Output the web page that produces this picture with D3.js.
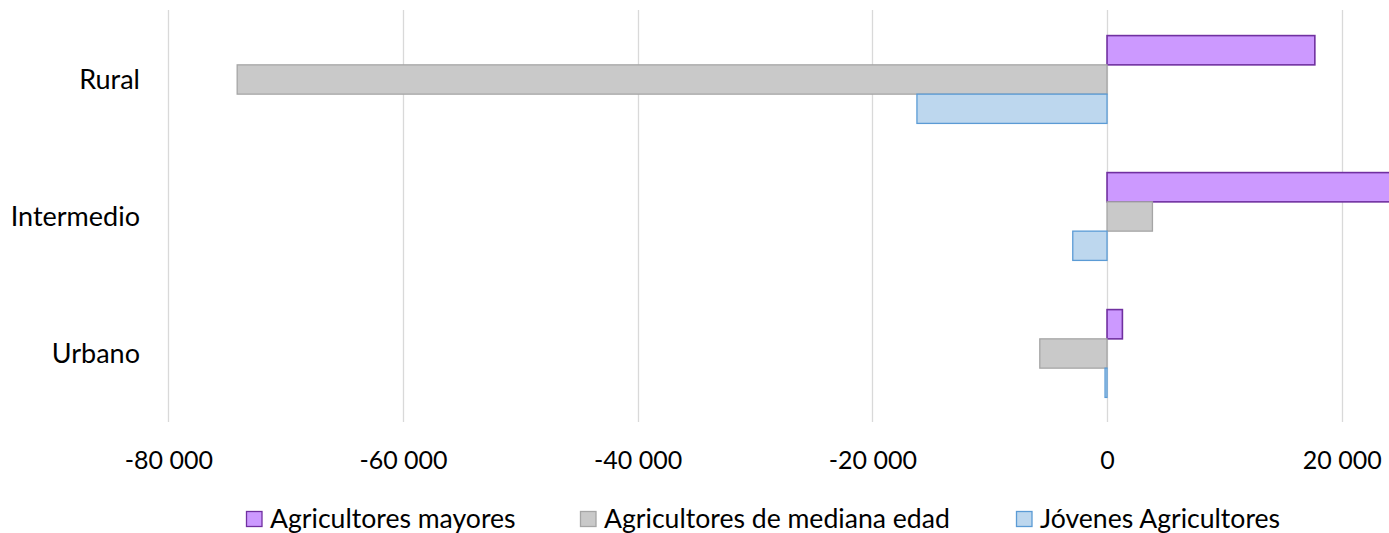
<!DOCTYPE html>
<html><head><meta charset="utf-8">
<script src="https://cdn.jsdelivr.net/npm/d3@7"></script>
<style>body{margin:0;background:#fff}svg{display:block}text{font-family:Lato,"Open Sans",sans-serif;fill:#000}</style>
</head><body><svg id="c" width="1389" height="533"></svg>
<script>
const categories = ["Rural", "Intermedio", "Urbano"];
const seriesNames = ["Agricultores mayores", "Agricultores de mediana edad", "Jóvenes Agricultores"];
const mayores = [17710, 26000, 1310];
const mediana = [-74130, 3870, -5730];
const jovenes = [-16200, -2920, -170];
const tickValues = [-80000, -60000, -40000, -20000, 0, 20000];
const fills = ["#CC99FF", "#C9C9C9", "#BDD7EE"];
const strokes = ["#7030A0", "#A5A5A5", "#5B9BD5"];

const series = [mayores, mediana, jovenes];
const svg = d3.select("#c");
const W = 1389;
const x = d3.scaleLinear().domain([-80000, 24030]).range([168.3, 1389]);
const y = d3.scaleBand().domain(categories).range([11, 422]);
const inner = d3.scaleBand().domain(d3.range(3)).range([0, y.bandwidth()]).paddingOuter(0.84).paddingInner(0);

svg.append("defs").append("clipPath").attr("id","clip").append("rect")
  .attr("x",0).attr("y",0).attr("width",W).attr("height",440);

// grid
svg.append("g").selectAll("line").data(tickValues).join("line")
  .attr("x1", d=>Math.round(x(d))+0.5).attr("x2", d=>Math.round(x(d))+0.5)
  .attr("y1", 10).attr("y2", 422).attr("stroke", "#D9D9D9").attr("stroke-width", 1.3);

// bars
const g = svg.append("g").attr("clip-path","url(#clip)");
series.forEach((vals, si) => {
  g.append("g").selectAll("rect").data(categories).join("rect")
    .attr("x", (c,i) => x(Math.min(0, vals[i])))
    .attr("width", (c,i) => Math.abs(x(vals[i]) - x(0)))
    .attr("y", c => y(c) + inner(si))
    .attr("height", inner.bandwidth())
    .attr("fill", fills[si]).attr("stroke", strokes[si]).attr("stroke-width", si===0?1.6:1.3);
});

// x tick labels
const xAxis = d3.axisBottom(x).tickValues(tickValues).tickSize(0).tickPadding(0)
  .tickFormat(d => d3.format(",")(d).replace(/,/g, " ").replace("−","-"));
const ax = svg.append("g").attr("transform", "translate(0,469)").call(xAxis);
ax.select(".domain").remove();
ax.selectAll("text").attr("font-size", 25).attr("dy", 0).attr("y", 0).style("font-family","Lato");

// category labels
svg.append("g").selectAll("text").data(categories).join("text")
  .attr("x", 140).attr("y", c => y(c) + y.bandwidth()/2 + 9.5)
  .attr("text-anchor","end")
  .attr("font-size", 27).text(c => c);

// legend
const legX = [246, 580, 1016];
const leg = svg.append("g");
seriesNames.forEach((n, i) => {
  leg.append("rect").attr("x", legX[i]+0.5).attr("y", 511.5).attr("width", 15.5).attr("height", 15)
    .attr("fill", fills[i]).attr("stroke", strokes[i]).attr("stroke-width", 1.3);
  leg.append("text").attr("x", legX[i]+24).attr("y", 528)
    .attr("font-size", 26.6).text(n);
});
</script></body></html>
